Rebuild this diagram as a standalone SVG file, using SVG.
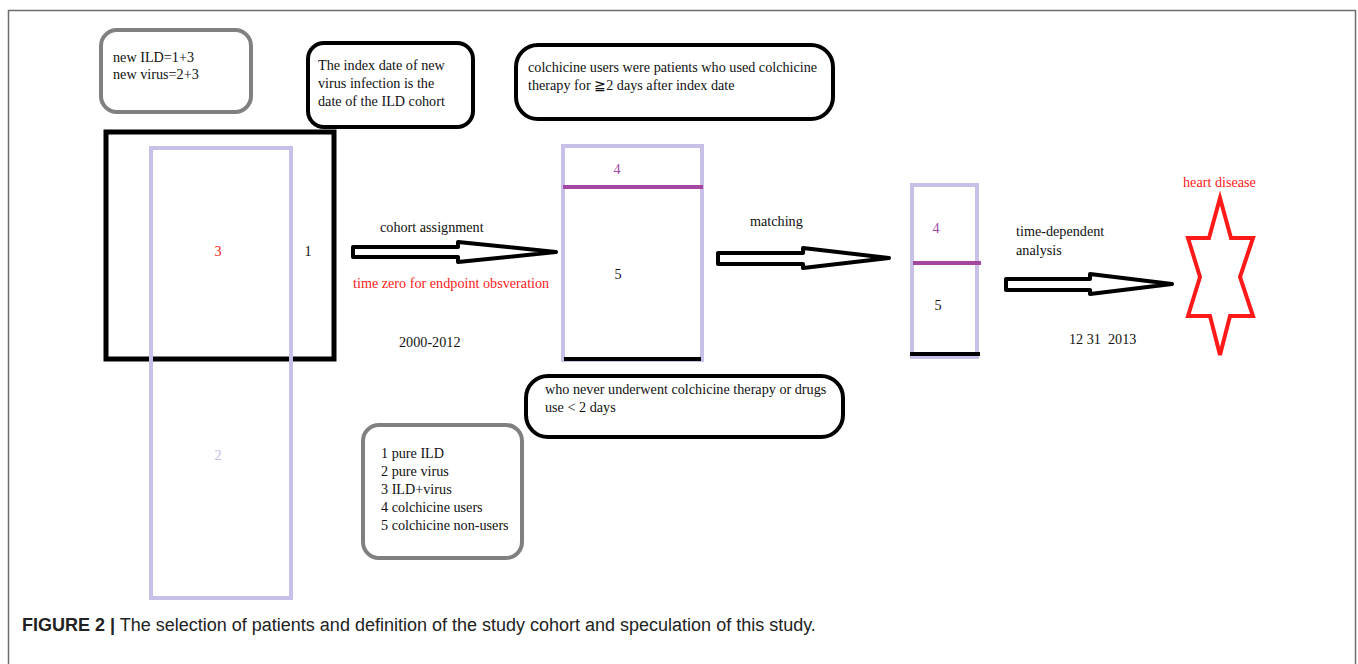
<svg xmlns="http://www.w3.org/2000/svg" width="1358" height="664" viewBox="0 0 1358 664">
<style>
text{font-family:"Liberation Serif","Times New Roman",serif;font-size:14.2px;fill:#111}
.red{fill:#ff1a1a}
.pur{fill:#a347a3}
.lav{fill:#c3bbe6}
.gbox{fill:#fff;stroke:#808080;stroke-width:4}
.bbox{fill:#fff;stroke:#000;stroke-width:4}
.lavr{fill:none;stroke:#c8c0e8;stroke-width:4}
.arrow{fill:#fff;stroke:#000;stroke-width:4;stroke-linejoin:round}
.cap{font-family:"Liberation Sans",Arial,sans-serif;font-size:18px;fill:#222}
</style>
<rect width="1358" height="664" fill="#fff"/>
<path d="M8.5,670 V10.5 H1355.5 V670" fill="none" stroke="#6e6e6e" stroke-width="1.5"/>

<g id="note-new-ild">
<rect class="gbox" x="101" y="30" width="150" height="82" rx="16"/>
<text x="113" y="62">new ILD=1+3</text>
<text x="113" y="79">new virus=2+3</text>
</g>

<g id="note-index-date">
<rect class="bbox" x="308" y="43" width="165" height="84" rx="16"/>
<text x="318" y="70">The index date of new</text>
<text x="318" y="88">virus infection is the</text>
<text x="318" y="106">date of the ILD cohort</text>
</g>

<g id="note-users">
<rect class="bbox" x="516" y="45" width="317" height="74" rx="22"/>
<text x="528" y="72">colchicine users were patients who used colchicine</text>
<text x="528" y="90">therapy for ≧2 days after index date</text>
</g>

<g id="cohort-ild">
<rect x="106" y="132" width="228" height="227" fill="none" stroke="#000" stroke-width="5"/>
<text x="308" y="256" text-anchor="middle">1</text>
</g>

<g id="cohort-virus">
<rect class="lavr" x="151" y="148" width="140" height="450"/>
<text class="red" x="218" y="256" text-anchor="middle">3</text>
<text class="lav" x="218" y="460" text-anchor="middle">2</text>
</g>

<g id="cohort-assigned">
<rect class="lavr" x="563" y="146" width="139" height="214"/>
<line x1="563" y1="187" x2="703" y2="187" stroke="#a347a3" stroke-width="4"/>
<line x1="564" y1="359" x2="701" y2="359" stroke="#000" stroke-width="4"/>
<text class="pur" x="617" y="174" text-anchor="middle">4</text>
<text x="618" y="279" text-anchor="middle">5</text>
</g>

<g id="cohort-matched">
<rect class="lavr" x="912" y="185" width="65" height="172"/>
<line x1="913" y1="263" x2="981" y2="263" stroke="#a347a3" stroke-width="4"/>
<line x1="910" y1="354" x2="980" y2="354" stroke="#000" stroke-width="4"/>
<text class="pur" x="936" y="233" text-anchor="middle">4</text>
<text x="938" y="310" text-anchor="middle">5</text>
</g>

<g id="outcome">
<text class="red" x="1183" y="187">heart disease</text>
<polygon points="1220,198 1231,238 1253,238 1240,277 1253,316 1230,316 1220,355 1210,316 1188,316 1200,277 1188,238 1209,238" fill="#fff" stroke="#ff1a1a" stroke-width="4" stroke-linejoin="miter"/>
</g>

<g id="note-nonusers">
<rect class="bbox" x="526" y="376" width="317" height="61" rx="22"/>
<text x="545" y="394">who never underwent colchicine therapy or drugs</text>
<text x="545" y="412">use &lt; 2 days</text>
</g>

<g id="legend">
<rect class="gbox" x="363" y="425" width="159" height="133" rx="16"/>
<text x="381" y="458">1 pure ILD</text>
<text x="381" y="476">2 pure virus</text>
<text x="381" y="494">3 ILD+virus</text>
<text x="381" y="512">4 colchicine users</text>
<text x="381" y="530">5 colchicine non-users</text>
</g>

<g id="connectors">
<polygon class="arrow" points="353,247 458,247 458,242 556,252 458,262 458,257 353,257"/>
<polygon class="arrow" points="718,253 803,253 803,248 889,258 803,268 803,264 718,264"/>
<polygon class="arrow" points="1006,279 1090,279 1090,274 1172,284 1090,294 1090,290 1006,290"/>
</g>

<g id="labels">
<text x="380" y="232">cohort assignment</text>
<text class="red" x="353" y="288">time zero for endpoint obsveration</text>
<text x="399" y="347">2000-2012</text>
<text x="750" y="226">matching</text>
<text x="1016" y="236">time-dependent</text>
<text x="1016" y="255">analysis</text>
<text x="1069" y="344" style="white-space:pre">12 31  2013</text>
</g>

<g id="caption">
<text class="cap" x="22" y="631"><tspan font-weight="bold">FIGURE 2 |</tspan> The selection of patients and definition of the study cohort and speculation of this study.</text>
</g>
</svg>
